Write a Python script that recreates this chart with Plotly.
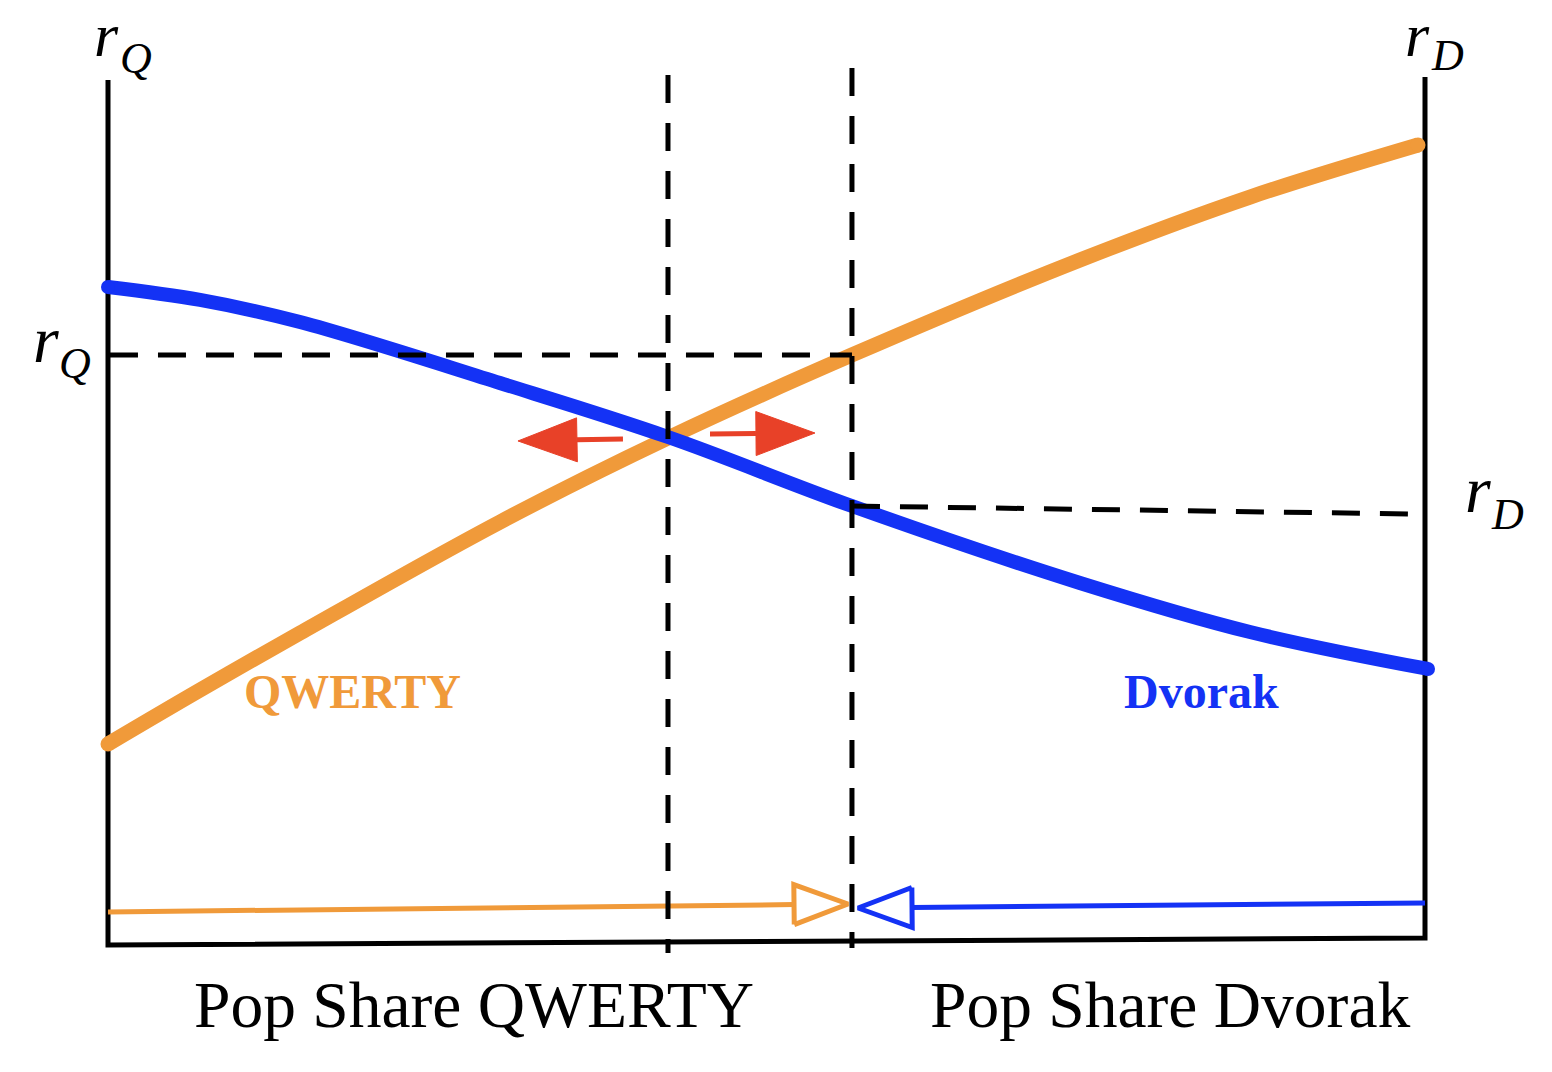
import math
import plotly.graph_objects as go

# ------------------------------------------------------------------
# Data (x = population share, 0..100 ; y = payoff / rate, 0..100)
# ------------------------------------------------------------------
qwerty_share = [0, 6.99, 14.58, 29.76, 42.52, 56.49, 73.80, 86.71, 99.47]
qwerty_rate = [23.24, 29.48, 36.07, 48.90, 58.61, 68.21, 79.19, 86.47, 92.49]

dvorak_share = [0, 6.99, 14.58, 29.76, 42.52, 56.49, 73.80, 86.71, 100.23]
dvorak_rate = [76.07, 74.57, 72.02, 64.97, 58.73, 50.75, 41.85, 36.18, 31.91]

# frame (hand drawn: bottom edge slightly tilted)
frame_x = [0, 0, 100, 100]
frame_y = [100, 0, 0.81, 100.35]

# guide lines
tipping_x = [42.52, 42.52]
tipping_y = [100.58, -0.92]
split_x = [56.49, 56.49]
split_y = [101.39, -0.35]
rq_x = [0.15, 56.49]
rq_y = [68.21, 68.21]
rd_x = [56.49, 98.86]
rd_y = [50.75, 49.83]

# arrows: (tail share, tail rate, tip share, tip rate)
red_arrows = [(39.10, 58.50, 31.13, 58.27), (45.71, 59.08, 53.68, 59.19)]
qwerty_flow = (0.0, 3.82, 56.19, 4.74)
dvorak_flow = (100.0, 4.86, 56.95, 4.28)

# labels
curve_labels = ["QWERTY", "Dvorak"]
axis_labels = ["Pop Share QWERTY", "Pop Share Dvorak"]

# ------------------------------------------------------------------
# Layout geometry (pixel scale of the drawing)
# ------------------------------------------------------------------
W, H = 1552, 1072
PX_X0, PX_PER_X = 108.0, 13.17
PX_Y0, PX_PER_Y = 945.0, 8.65


def fx(px):
    return (px - PX_X0) / PX_PER_X


def fy(py):
    return (PX_Y0 - py) / PX_PER_Y


ORANGE = "#F09A3A"
BLUE = "#1432F5"
RED = "#E84128"
SERIF = "Liberation Serif, Times New Roman, serif"


def arrow_geom(arrow, head_len, head_half):
    x0, y0, x1, y1 = arrow
    p0 = (x0 * PX_PER_X, -y0 * PX_PER_Y)
    p1 = (x1 * PX_PER_X, -y1 * PX_PER_Y)
    dx, dy = p1[0] - p0[0], p1[1] - p0[1]
    L = math.hypot(dx, dy)
    ux, uy = dx / L, dy / L
    nx, ny = -uy, ux
    bx, by = p1[0] - ux * head_len, p1[1] - uy * head_len
    tri = [(bx + nx * head_half, by + ny * head_half), p1,
           (bx - nx * head_half, by - ny * head_half), (bx + nx * head_half, by + ny * head_half)]

    def back(p):
        return (p[0] / PX_PER_X, -p[1] / PX_PER_Y)

    shaft = [back(p0), back((bx, by))]
    tri = [back(p) for p in tri]
    return shaft, tri


fig = go.Figure()

# frame
fig.add_trace(go.Scatter(x=frame_x, y=frame_y, mode="lines",
                         line=dict(color="black", width=5)))

# curves
fig.add_trace(go.Scatter(x=qwerty_share, y=qwerty_rate, mode="lines",
                         line=dict(color=ORANGE, width=15, shape="spline", smoothing=1)))
fig.add_trace(go.Scatter(x=[qwerty_share[0], qwerty_share[-1]], y=[qwerty_rate[0], qwerty_rate[-1]],
                         mode="markers", marker=dict(color=ORANGE, size=15)))
fig.add_trace(go.Scatter(x=dvorak_share, y=dvorak_rate, mode="lines",
                         line=dict(color=BLUE, width=14, shape="spline", smoothing=1)))
fig.add_trace(go.Scatter(x=[dvorak_share[0], dvorak_share[-1]], y=[dvorak_rate[0], dvorak_rate[-1]],
                         mode="markers", marker=dict(color=BLUE, size=14)))

# flow arrows at bottom (open heads)
for arr, col in [(qwerty_flow, ORANGE), (dvorak_flow, BLUE)]:
    shaft, tri = arrow_geom(arr, 54, 20)
    fig.add_trace(go.Scatter(x=[p[0] for p in shaft], y=[p[1] for p in shaft], mode="lines",
                             line=dict(color=col, width=5)))
    fig.add_trace(go.Scatter(x=[p[0] for p in tri], y=[p[1] for p in tri], mode="lines",
                             fill="toself", fillcolor="white",
                             line=dict(color=col, width=5)))

# dashed guides
DASH = "28px,20px"
for gx, gy in [(tipping_x, tipping_y), (split_x, split_y), (rq_x, rq_y), (rd_x, rd_y)]:
    fig.add_trace(go.Scatter(x=gx, y=gy, mode="lines",
                             line=dict(color="black", width=5, dash=DASH)))

# red arrows
for arr in red_arrows:
    shaft, tri = arrow_geom(arr, 59, 22)
    fig.add_trace(go.Scatter(x=[p[0] for p in shaft], y=[p[1] for p in shaft], mode="lines",
                             line=dict(color=RED, width=5)))
    fig.add_trace(go.Scatter(x=[p[0] for p in tri], y=[p[1] for p in tri], mode="lines",
                             fill="toself", fillcolor=RED, line=dict(color=RED, width=1)))

annotations = []


def label(text, px, py, size, color="black", italic=False, bold=False):
    t = text
    if italic:
        t = "<i>" + t + "</i>"
    if bold:
        t = "<b>" + t + "</b>"
    annotations.append(dict(x=fx(px), y=fy(py), xref="x", yref="y", text=t, showarrow=False,
                            xanchor="center", yanchor="middle",
                            font=dict(family=SERIF, size=size, color=color)))


def sym(main, sub, cx_main, base_main, cx_sub, base_sub, size_main=66, size_sub=44):
    label(main, cx_main, base_main - 0.3375 * size_main, size_main, italic=True)
    label(sub, cx_sub, base_sub - 0.3375 * size_sub, size_sub, italic=True)


sym("r", "Q", 106, 55.5, 135.6, 73, size_main=62)
sym("r", "D", 1417.5, 55.5, 1447, 70, size_main=62)
sym("r", "Q", 45.7, 362, 74.6, 378)
sym("r", "D", 1478, 512, 1507, 529)

label(curve_labels[0], 352.5, 708 - 0.3375 * 48, 48, color=ORANGE, bold=True)
label(curve_labels[1], 1201, 708 - 0.3375 * 48, 48, color=BLUE, bold=True)
label(axis_labels[0], 473.5, 1027 - 0.3375 * 65.5, 65.5)
label(axis_labels[1], 1170, 1027 - 0.3375 * 65.5, 65.5)

fig.update_layout(
    width=W, height=H,
    margin=dict(l=0, r=0, t=0, b=0),
    paper_bgcolor="white", plot_bgcolor="white",
    showlegend=False, hovermode=False,
    xaxis=dict(range=[fx(0), fx(W)], visible=False, fixedrange=True),
    yaxis=dict(range=[fy(H), fy(0)], visible=False, fixedrange=True),
    annotations=annotations,
)

fig.write_html("out.html")
